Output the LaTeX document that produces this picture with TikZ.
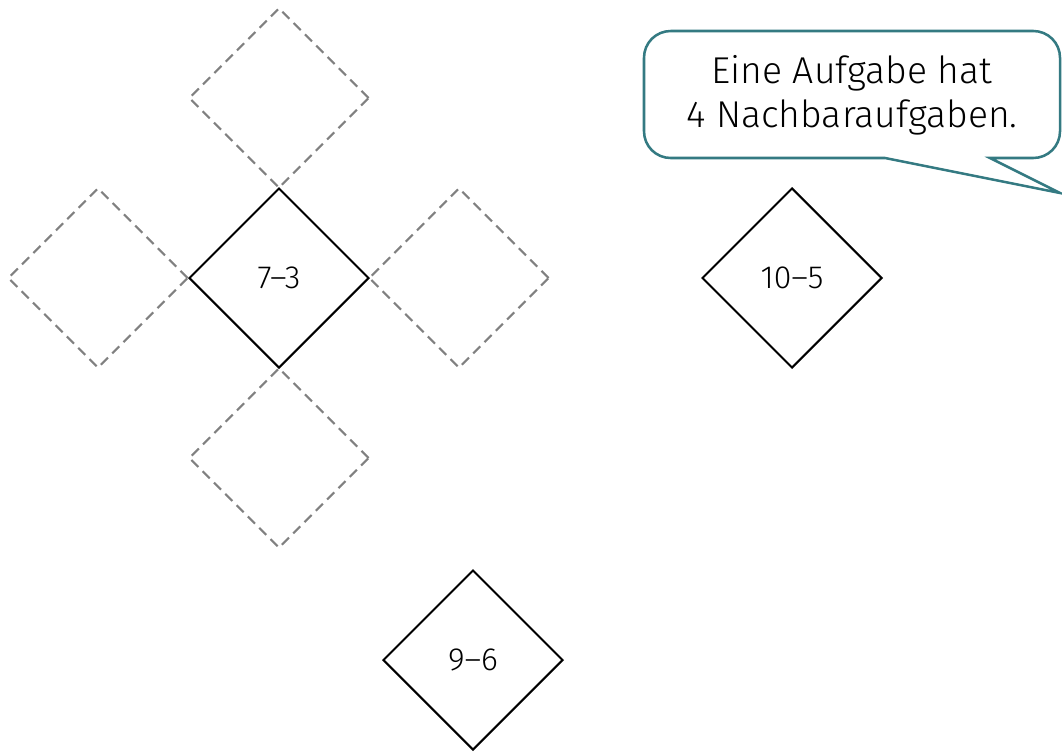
\documentclass[tikz,border=0pt]{standalone}
\usepackage{fontspec}
\setmainfont{Fira Sans Light}
\usetikzlibrary{shapes.geometric}
\definecolor{bubteal}{RGB}{52,122,130}
\definecolor{dashgray}{RGB}{128,128,128}
\begin{document}
\begin{tikzpicture}[x=0.75pt,y=-0.75pt,
  tile/.style={diamond, draw=black, line width=1.5pt, minimum width=135pt, minimum height=135pt, inner sep=0pt, font=\fontsize{24}{28}\selectfont},
  ghost/.style={diamond, draw=dashgray, line width=1.6pt, dash pattern=on 7.5pt off 4.5pt, minimum width=135pt, minimum height=135pt, inner sep=0pt},
  bubble/.style={draw=bubteal, line width=1.9pt, fill=white},
  bubtext/.style={align=center, font=\fontsize{28}{33}\selectfont}]
\useasboundingbox (0,0) rectangle (1062,751);
% neighbour placeholders
\node[ghost] (gtop) at (279,98) {};
\node[ghost] (gleft) at (98,278) {};
\node[ghost] (gright) at (459,278) {};
\node[ghost] (gbottom) at (279,458) {};
% tasks
\node[tile] (a) at (279,278) {7–3};
\node[tile] (b) at (792,278) {10–5};
\node[tile] (c) at (473,660) {9–6};
% speech bubble
\draw[bubble] (644,94) [rounded corners=20] -- (644,31) -- (1060,31) -- (1060,158) [sharp corners] -- (990,158) -- (1060,193) -- (885,158) [rounded corners=20] -- (644,158) -- cycle;
\node[bubtext] (t) at (852,95) {Eine Aufgabe hat\\4 Nachbaraufgaben.};
\end{tikzpicture}
\end{document}
